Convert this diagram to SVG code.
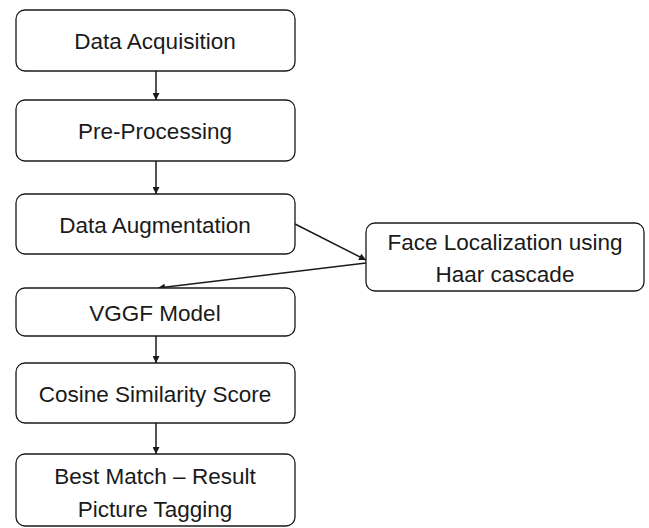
<svg xmlns="http://www.w3.org/2000/svg" width="649" height="528" viewBox="0 0 649 528">
  <style>
    .box { fill: #ffffff; stroke: #1a1a1a; stroke-width: 1.3; }
    .lbl { font-family: "Liberation Sans", Arial, sans-serif; font-size: 22.5px; fill: #1a1a1a; text-anchor: middle; }
    .edge { stroke: #1a1a1a; stroke-width: 1.5; fill: none; marker-end: url(#arrow); }
  </style>
  <defs>
    <marker id="arrow" viewBox="0 0 10 10" refX="10" refY="5" markerWidth="7" markerHeight="7" markerUnits="userSpaceOnUse" orient="auto">
      <path d="M0,0 L10,5 L0,10 z" fill="#1a1a1a"/>
    </marker>
  </defs>
  <rect width="649" height="528" fill="#ffffff"/>

  <g id="connectors">
    <line class="edge" x1="156" y1="71" x2="156" y2="100"/>
    <line class="edge" x1="156" y1="161" x2="156" y2="194"/>
    <line class="edge" x1="295" y1="224" x2="366" y2="260"/>
    <line class="edge" x1="366" y1="263" x2="158" y2="288"/>
    <line class="edge" x1="156" y1="336" x2="156" y2="363"/>
    <line class="edge" x1="156" y1="423" x2="156" y2="454"/>
  </g>

  <g id="data-acquisition">
    <rect class="box" x="16" y="10" width="279" height="61" rx="9"/>
    <text class="lbl" x="155" y="48.5">Data Acquisition</text>
  </g>
  <g id="pre-processing">
    <rect class="box" x="16" y="100" width="279" height="61" rx="9"/>
    <text class="lbl" x="155" y="138.5">Pre-Processing</text>
  </g>
  <g id="data-augmentation">
    <rect class="box" x="16" y="194" width="279" height="60" rx="9"/>
    <text class="lbl" x="155" y="233">Data Augmentation</text>
  </g>
  <g id="face-localization">
    <rect class="box" x="366" y="223" width="278" height="68" rx="9"/>
    <text class="lbl" x="505" y="250">Face Localization using</text>
    <text class="lbl" x="505" y="282">Haar cascade</text>
  </g>
  <g id="vggf-model">
    <rect class="box" x="16" y="288" width="279" height="48" rx="9"/>
    <text class="lbl" x="155" y="321">VGGF Model</text>
  </g>
  <g id="cosine-similarity">
    <rect class="box" x="16" y="363" width="279" height="60" rx="9"/>
    <text class="lbl" x="155" y="402">Cosine Similarity Score</text>
  </g>
  <g id="best-match">
    <rect class="box" x="16" y="454" width="279" height="72" rx="9"/>
    <text class="lbl" x="155" y="484">Best Match – Result</text>
    <text class="lbl" x="155" y="517">Picture Tagging</text>
  </g>
</svg>
